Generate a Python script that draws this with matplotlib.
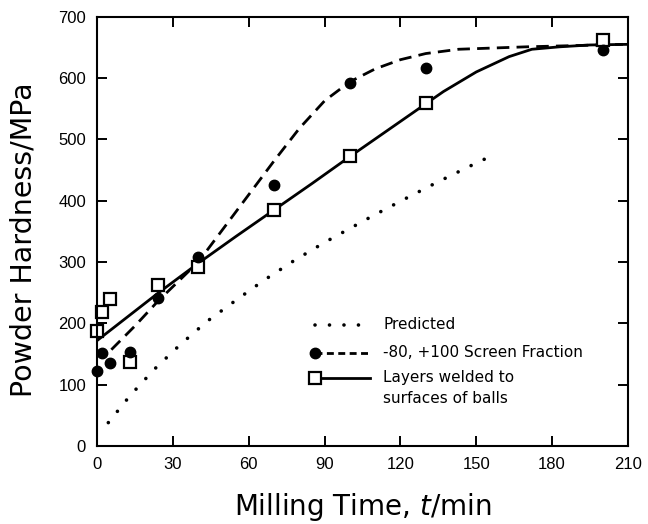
import numpy as np
import matplotlib
matplotlib.use("Agg")
import matplotlib.pyplot as plt

plt.rcParams['font.family'] = ['Liberation Sans', 'DejaVu Sans']
plt.rcParams['mathtext.fontset'] = 'custom'
plt.rcParams['mathtext.it'] = 'DejaVu Sans:italic'

# measured points
time_circ = [0, 2, 5, 13, 24, 40, 70, 100, 130, 200]
hard_circ = [122, 152, 136, 154, 241, 308, 426, 592, 616, 646]
time_sq = [0, 2, 5, 13, 24, 40, 70, 100, 130, 200]
hard_sq = [188, 219, 240, 137, 262, 292, 385, 473, 559, 662]

# hand drawn fits
dash_t = [5.6, 15, 24, 40, 50, 60, 70, 80, 90, 100, 110, 120, 130, 143, 170, 208]
dash_h = [157, 196, 236, 300, 355, 410, 465, 518, 563, 594, 615, 630, 640, 647, 651, 655]
sol_t = [0, 24, 40, 55, 70, 85, 100, 115, 130, 137, 150, 163, 172, 183, 195, 210]
sol_h = [172, 249, 298, 342, 385, 428, 472, 515, 558, 578, 610, 635, 647, 651, 654, 655]
pred_t = [4.4, 13, 22.6, 32.8, 43.4, 54.7, 65.9, 77.8, 90, 108.9, 121.8, 134.5, 147.3, 153.9]
pred_h = [38, 82, 125, 165, 203, 237, 270, 302, 332, 375, 403, 430, 456, 469]

xticks = [0, 30, 60, 90, 120, 150, 180, 210]
yticks = [0, 100, 200, 300, 400, 500, 600, 700]

fig = plt.figure(figsize=(6.48, 5.24), dpi=100)
ax = fig.add_axes([0.150, 0.149, 0.819, 0.819])

ax.plot(pred_t, pred_h, c='k', lw=2.6, ls=(0, (0.01, 4.0)), dash_capstyle='round')
ax.plot(dash_t, dash_h, c='k', lw=2.0, ls=(0, (4.5, 2.6)))
ax.plot(sol_t, sol_h, c='k', lw=2.0)
ax.plot(time_sq, hard_sq, 's', ms=9, mfc='white', mec='k', mew=1.6, clip_on=False)
ax.plot(time_circ, hard_circ, 'o', ms=7.5, mfc='k', mec='k', clip_on=False)

ax.set_xlim(0, 210)
ax.set_ylim(0, 700)
ax.set_xticks(xticks)
ax.set_yticks(yticks)
ax.tick_params(direction='in', length=7, width=1.4, top=True, right=True, labelsize=12, pad=8)
for s in ax.spines.values():
    s.set_linewidth(1.5)

ax.set_xlabel('Milling Time, $t$/min', fontsize=20, family='DejaVu Sans', labelpad=14)
ax.set_ylabel('Powder Hardness/MPa', fontsize=20.5, family='DejaVu Sans', labelpad=2)
ax.yaxis.set_label_coords(-0.113, 0.48)

# legend drawn by hand (marker sits at the left end of the sample line)
tr = ax.transAxes
lx0, lx1, tx = 0.411, 0.514, 0.539
lfs = 11
ax.plot([lx0, lx1], [0.282, 0.282], transform=tr, c='k', lw=2.6, ls=(0, (0.01, 4.0)), dash_capstyle='round')
ax.text(tx, 0.282, 'Predicted', transform=tr, fontsize=lfs, family='DejaVu Sans', va='center')
ax.plot([lx0, lx1], [0.217, 0.217], transform=tr, c='k', lw=2.0, ls=(0, (2.5, 1.6)))
ax.plot([lx0], [0.217], 'o', transform=tr, ms=7.5, c='k')
ax.text(tx, 0.217, '-80, +100 Screen Fraction', transform=tr, fontsize=lfs, family='DejaVu Sans', va='center')
ax.plot([lx0, lx1], [0.159, 0.159], transform=tr, c='k', lw=2.0)
ax.plot([lx0], [0.159], 's', transform=tr, ms=9, mfc='white', mec='k', mew=1.6)
ax.text(tx, 0.159, 'Layers welded to', transform=tr, fontsize=lfs, family='DejaVu Sans', va='center')
ax.text(tx, 0.110, 'surfaces of balls', transform=tr, fontsize=lfs, family='DejaVu Sans', va='center')

fig.savefig('out.png', dpi=100)
